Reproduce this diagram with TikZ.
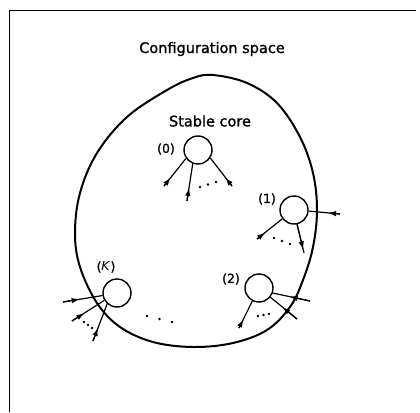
\documentclass[tikz,border=0pt]{standalone}
\usepackage{fontspec}
\setmainfont{DejaVu Sans}[BoldFont={DejaVu Sans},BoldFeatures={FakeBold=1.3}]
\usetikzlibrary{arrows.meta,calc}
\tikzset{
  core/.style={circle,draw,line width=1.4pt,minimum size=28pt,inner sep=0pt,fill=white},
  lbl/.style={font=\bfseries\fontsize{12.5}{14}\selectfont,inner sep=0pt},
  ttl/.style={font=\bfseries\fontsize{14.5}{16}\selectfont,inner sep=0pt},
  link/.style={line width=1.2pt},
  headed/.style={link,-{Latex[length=8pt,width=5.5pt]}},
  dotmark/.style={fill,circle,inner sep=0pt,minimum size=2.8pt},
}
\newcommand{\tiplink}[3]{% from, to, position of head
  \draw[link] (#1) -- (#2);
  \draw[headed] (#1) -- ($(#1)!#3!(#2)$);
}
\begin{document}
\begin{tikzpicture}[x=1pt,y=-1pt]
\useasboundingbox (0,0) rectangle (420,412);
% frame
\draw[line width=0.9pt] (9,412) -- (9,10) -- (416,10);
% titles
\node[ttl] (title) at (212,49) {Configuration space};
\node[ttl] (stable) at (210,121) {Stable core};
% boundary
\draw[line width=2pt] plot[smooth cycle,tension=0.6] coordinates {
 (213,75) (247,83) (277,103) (300,137) (313,173) (317,210) (313,247) (303,280)
 (290,307) (267,330) (233,343) (193,347) (153,342) (120,327) (97,303) (80,267)
 (75,233) (80,193) (97,153) (127,117) (167,90) (193,78)};
% cores
\node[core] (c0) at (198,150) {};
\node[core] (c1) at (294,210) {};
\node[core] (c2) at (259,288) {};
\node[core] (cK) at (117,293) {};
\node[lbl] (l0) at (166,149) {(0)};
\node[lbl] (l1) at (267,199) {(1)};
\node[lbl] (l2) at (231,279) {(2)};
\node[lbl] (lK) at (106,267) {(\textit{K})};
% outer ends
\coordinate (o01) at (164,186);
\coordinate (o02) at (187,201);
\coordinate (o03) at (232,186);
\coordinate (o11) at (257,239);
\coordinate (o12) at (304,253);
\coordinate (o13) at (340,214);
\coordinate (o21) at (239,328);
\coordinate (o22) at (310,301);
\coordinate (o23) at (297,319);
\coordinate (oK1) at (63,302);
\coordinate (oK2) at (72,321);
\coordinate (oK3) at (93,341);
% connectors
\tiplink{o01}{c0.215}{0.3}
\tiplink{o02}{c0.249}{0.35}
\tiplink{o03}{c0.327}{0.3}
\tiplink{o11}{c1.217}{0.32}
\tiplink{c1.282}{o12}{0.88}
\tiplink{o13}{c1.356}{0.38}
\tiplink{o21}{c2.243}{0.32}
\tiplink{o22}{c2.340}{0.55}
\tiplink{o23}{c2.321}{0.55}
\tiplink{oK1}{cK.190}{0.42}
\tiplink{oK2}{cK.210}{0.38}
\tiplink{oK3}{cK.228}{0.35}
% dots
\foreach \p in {(200,187),(208,184.5),(216,182),
                (274,238),(282,241),(290,244),
                (258,316),(263.5,315),(269,314),
                (84,322),(88,325),(92,328),
                (147,316),(159.5,319),(172,322)}
  \node[dotmark] at \p {};
\end{tikzpicture}
\end{document}
